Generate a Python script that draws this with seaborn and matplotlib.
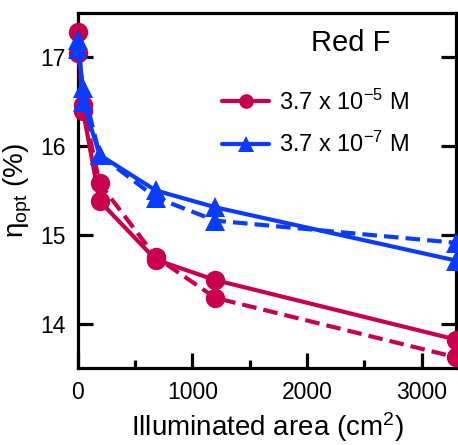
import matplotlib
matplotlib.use('Agg')
import matplotlib.pyplot as plt
import pandas as pd
import seaborn as sns
from matplotlib.ticker import MultipleLocator

# Data
area = [5, 45, 190, 680, 1200, 3300]
red_solid = [17.28, 16.40, 15.38, 14.72, 14.49, 13.82]
red_dashed = [17.05, 16.46, 15.58, 14.75, 14.29, 13.62]
blue_solid = [17.20, 16.50, 15.90, 15.50, 15.31, 14.71]
blue_dashed = [17.09, 16.65, 15.90, 15.42, 15.16, 14.91]

red = '#C8004E'
blue = '#0A3CFF'

sns.set_theme(style='ticks')
plt.rcParams['font.family'] = ['Liberation Sans', 'DejaVu Sans']
plt.rcParams['mathtext.default'] = 'regular'
plt.rcParams['text.color'] = 'black'
plt.rcParams['axes.labelcolor'] = 'black'

fig = plt.figure(figsize=(4.58, 4.45), dpi=100)
ax = fig.add_axes([0.170, 0.173, 0.826, 0.798])

dash = (0, (3.5, 1.7))
series = [
    (red_solid, red, 'o', 14, '-', '3.7 x 10$^{-5}$ M'),
    (red_dashed, red, 'o', 14, dash, None),
    (blue_solid, blue, '^', 15, '-', '3.7 x 10$^{-7}$ M'),
    (blue_dashed, blue, '^', 15, dash, None),
]
for vals, col, mk, ms, ls, lab in series:
    df = pd.DataFrame({'area': area, 'eta': vals})
    sns.lineplot(data=df, x='area', y='eta', ax=ax, color=col, marker=mk,
                 markersize=ms, markeredgewidth=0, linewidth=3,
                 linestyle=ls, label=lab, clip_on=False, zorder=3)

ax.set_xlim(0, 3300)
ax.set_ylim(13.5, 17.5)
ax.xaxis.set_major_locator(MultipleLocator(1000))
ax.xaxis.set_minor_locator(MultipleLocator(500))
ax.yaxis.set_major_locator(MultipleLocator(1))

for s in ax.spines.values():
    s.set_linewidth(2.3)
    s.set_color('black')
ax.tick_params(which='both', direction='in', width=2.3, right=True, top=False,
               labelsize=16.5, colors='black', pad=9)
ax.tick_params(which='major', length=11)
ax.tick_params(which='minor', length=6)

ax.set_xlabel('Illuminated area (cm$^2$)', fontsize=20, labelpad=5)
ax.set_ylabel('η$_{opt}$ (%)', fontsize=20, labelpad=4)

ax.text(0.72, 0.915, 'Red F', transform=ax.transAxes, fontsize=21,
        ha='center', va='center')
leg = ax.legend(loc='upper left', bbox_to_anchor=(0.381, 0.785), frameon=False,
                fontsize=17, handlelength=2.0, handletextpad=0.42,
                labelspacing=0.75, borderaxespad=0, borderpad=0,
                markerscale=0.75)

fig.savefig('out.png', dpi=100)
